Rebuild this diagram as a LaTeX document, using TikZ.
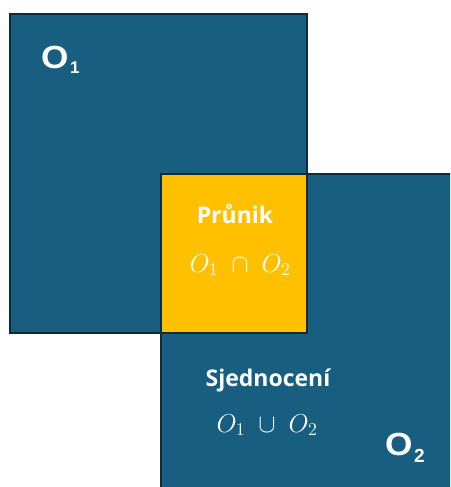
\documentclass[tikz,border=0pt]{standalone}
\usepackage{graphicx}
\usepackage[no-math]{fontspec}
\setmainfont{Liberation Sans}
\newfontfamily\capfont{Open Sans}
\definecolor{boxblue}{HTML}{175E80}
\definecolor{interyellow}{HTML}{FFC000}
\definecolor{edgeblue}{HTML}{0E2A3B}
\newcommand{\formulatext}[1]{\scalebox{1.25}{\fontsize{20.74}{21}\selectfont$#1$}}
\newcommand{\setlabel}[3]{\scalebox{1.1}[1]{O}\hspace{1.5pt}\raisebox{#2}{\fontsize{#3}{#3}\selectfont #1}}
\begin{document}
\begin{tikzpicture}[x=1pt,y=-1pt]
\tikzset{
  setbox/.style={draw=edgeblue, line width=2.2pt, fill=boxblue},
  setname/.style={text=white, font=\fontsize{32}{32}\selectfont\bfseries, inner sep=0pt, anchor=base west},
  caption/.style={text=white, font=\capfont\bfseries\fontsize{23}{23}\selectfont, inner sep=0pt, anchor=base},
  formula/.style={text=white, inner sep=0pt, anchor=base},
}
\useasboundingbox (0,0) rectangle (450,487);
\clip (0,0) rectangle (450,487);
\fill[white] (0,0) rectangle (450,487);
\draw[setbox] (10,14) rectangle (307,333);
\draw[setbox] (161,174) rectangle (480,520);
\draw[setbox, fill=interyellow] (161,174) rectangle (307,333);
\node[setname] (o1) at (41,69) {\setlabel{1}{-4.5pt}{17}};
\node[setname] (o2) at (385,455) {\setlabel{2}{-7.5pt}{19}};
\node[caption] (prunik) at (235,223) {Průnik};
\node[formula] (cap) at (240,272) {\formulatext{O_1\;\cap\;O_2}};
\node[caption] (sjed) at (268,386) {Sjednocení};
\node[formula] (cup) at (267,432) {\formulatext{O_1\;\cup\;O_2}};
\end{tikzpicture}
\end{document}
